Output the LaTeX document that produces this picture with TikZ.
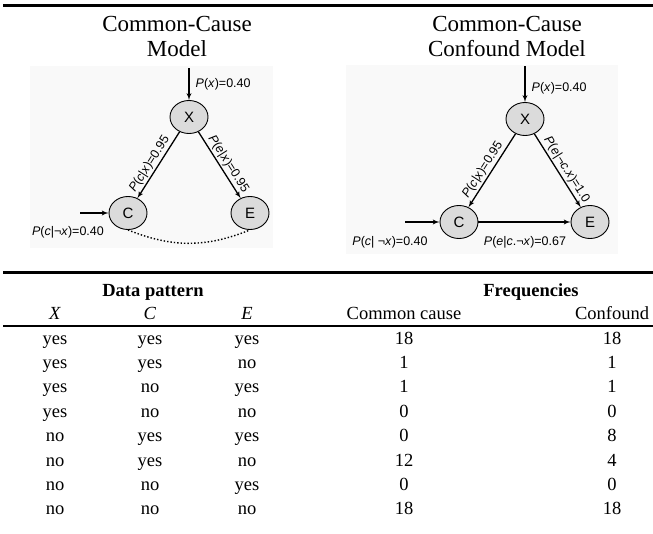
\documentclass[tikz,border=0pt]{standalone}
\usepackage{fontspec}
\setmainfont{Liberation Serif}
\setsansfont{Liberation Sans}
\usepackage{tikz}
\usetikzlibrary{positioning}
\usetikzlibrary{shapes,backgrounds,arrows}
\tikzstyle{line} = [draw, line width=1.3pt, -latex']
\tikzstyle{var} = [ellipse, draw, line width=0.9pt, fill=black!14, minimum width=38pt, minimum height=33pt, inner sep=0pt, font=\sffamily\fontsize{15}{15}\selectfont]
\tikzstyle{prob} = [font=\sffamily\fontsize{12.5}{13}\selectfont, inner sep=1.5pt]
\tikzstyle{panel} = [fill=black!2.5]
\tikzstyle{title} = [font=\fontsize{23}{25}\selectfont, align=center]
\tikzstyle{cell} = [font=\fontsize{18.5}{20}\selectfont, inner sep=0pt, anchor=base]
\tikzstyle{rule} = [line width=3pt]

\begin{document}
\begin{tikzpicture}[x=1pt, y=-1pt]
	\useasboundingbox (0,0) rectangle (653,533);
	\draw[rule] (3,5) -- (653,5);
	\node[title] (title1) at (177,36) {Common-Cause\\Model};
	\node[title] (title2) at (507,36) {Common-Cause\\Confound Model};

	\fill[panel] (30,66) rectangle (273,248);
	\fill[panel] (346,65) rectangle (618,254);

	\node[var] (x1) at (189,117) {X};
	\node[var] (c1) at (128,213) {C};
	\node[var] (e1) at (250,213) {E};
	\coordinate (x1in) at (189,68);
	\coordinate (c1in) at (80,213);
	\path[line] (x1in) -- (x1);
	\path[line] (c1in) -- (c1);
	\node[prob, anchor=west] (px1) at (194,84) {\textit{P}(\textit{x})=0.40};
	\node[prob] (pc1) at (68,232) {\textit{P}(\textit{c}|¬\textit{x})=0.40};
	\path[line] (x1) -- node[prob, sloped, above, pos=0.55] (pcx1) {\textit{P}(\textit{c}|\textit{x})=0.95} (c1);
	\path[line] (x1) -- node[prob, sloped, above, pos=0.55] (pex1) {\textit{P}(\textit{e}|\textit{x})=0.95} (e1);
	\draw[line width=1.4pt, dotted] (c1.south) to[bend right=22] (e1.south);

	\node[var] (x2) at (525,119) {X};
	\node[var] (c2) at (459,222) {C};
	\node[var] (e2) at (590,222) {E};
	\coordinate (x2in) at (525,66);
	\coordinate (c2in) at (405,222);
	\path[line] (x2in) -- (x2);
	\path[line] (c2in) -- (c2);
	\path[line] (c2) -- (e2);
	\node[prob, anchor=west] (px2) at (530,88) {\textit{P}(\textit{x})=0.40};
	\node[prob] (pc2) at (390,242) {\textit{P}(\textit{c}| ¬\textit{x})=0.40};
	\node[prob] (pec2) at (525,242) {\textit{P}(\textit{e}|\textit{c}.¬\textit{x})=0.67};
	\path[line] (x2) -- node[prob, sloped, above, pos=0.55] (pcx2) {\textit{P}(\textit{c}|\textit{x})=0.95} (c2);
	\path[line] (x2) -- node[prob, sloped, above, pos=0.55] (pex2) {\textit{P}(\textit{e}|¬\textit{c}.\textit{x})=1.0} (e2);

	\draw[rule] (3,272) -- (653,272);
	\node[cell] (hdata) at (153,296) {\textbf{Data pattern}};
	\node[cell] (hfreq) at (531,296) {\textbf{Frequencies}};
	\node[cell] (hx) at (55,319) {\textit{X}};
	\node[cell] (hc) at (150,319) {\textit{C}};
	\node[cell] (he) at (247,319) {\textit{E}};
	\node[cell] (hcc) at (404,319) {Common cause};
	\node[cell] (hcf) at (612,319) {Confound};
	\draw[line width=2pt] (3,326) -- (653,326);
	\foreach \vx/\vc/\ve/\fa/\fb [count=\i] in {yes/yes/yes/18/18, yes/yes/no/1/1, yes/no/yes/1/1, yes/no/no/0/0, no/yes/yes/0/8, no/yes/no/12/4, no/no/yes/0/0, no/no/no/18/18} {
		\node[cell] (r\i x) at (55,344+24.4*\i-24.4) {\vx};
		\node[cell] (r\i c) at (150,344+24.4*\i-24.4) {\vc};
		\node[cell] (r\i e) at (247,344+24.4*\i-24.4) {\ve};
		\node[cell] (r\i cc) at (404,344+24.4*\i-24.4) {\fa};
		\node[cell] (r\i cf) at (612,344+24.4*\i-24.4) {\fb};
	}
\end{tikzpicture}
\end{document}
